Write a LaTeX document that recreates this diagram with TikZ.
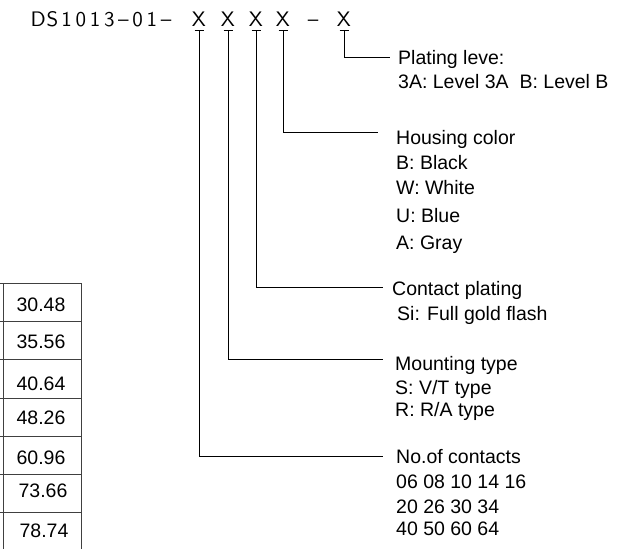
\documentclass[tikz,border=0pt]{standalone}
\usepackage{fontspec}
\setmainfont{Liberation Sans}
\newfontfamily\hdrfont{lmsans10-regular.otf}
\newcommand\hdrch[1]{\makebox[14.2pt][c]{#1}}
\begin{document}
\begin{tikzpicture}[x=1pt,y=-1pt,
  lbl/.style={anchor=base west,inner sep=0pt,font=\fontsize{19.5}{22}\selectfont},
  hdr/.style={anchor=base,inner sep=0pt,font=\hdrfont\fontsize{21}{24}\selectfont},
  num/.style={anchor=base,inner sep=0pt,font=\fontsize{19.5}{22}\selectfont},
  conn/.style={line width=1pt},
  tab/.style={line width=1pt,draw=black!75}]
\useasboundingbox (0,0) rectangle (630,549);

% header code
\node[hdr,anchor=base west] (h) at (31,26) {\hdrch{D}\hdrch{S}\hdrch{1}\hdrch{0}\hdrch{1}\hdrch{3}\hdrch{–}\hdrch{0}\hdrch{1}\hdrch{–}};
\node[hdr] (x1) at (199,26) {X};
\node[hdr] (x2) at (228,26) {X};
\node[hdr] (x3) at (256,26) {X};
\node[hdr] (x4) at (283,26) {X};
\node[hdr] (dash) at (313,26) {–};
\node[hdr] (x5) at (344,26) {X};

% labels
\node[lbl] (plat) at (398,64) {Plating leve:};
\node[lbl] (plat2) at (398,88) {3A: Level 3A\ \ B: Level B};
\node[lbl] (house) at (396,144) {Housing color};
\node[lbl] (hb) at (396,169) {B: Black};
\node[lbl] (hw) at (396,194) {W: White};
\node[lbl] (hu) at (396,222) {U: Blue};
\node[lbl] (ha) at (396,249) {A: Gray};
\node[lbl] (cont) at (392,295) {Contact plating};
\node[lbl] (csi) at (397,320) {Si: Full gold flash};
\node[lbl] (mount) at (395,370) {Mounting type};
\node[lbl] (ms) at (395,394) {S: V/T type};
\node[lbl] (mr) at (395,416) {R: R/A type};
\node[lbl] (noc) at (396,463) {No.of contacts};
\node[lbl] (n1) at (396,488) {06 08 10 14 16};
\node[lbl] (n2) at (396,513) {20 26 30 34};
\node[lbl] (n3) at (396,535) {40 50 60 64};

% connector ends
\coordinate (e1) at (383,456);
\coordinate (e2) at (383,359);
\coordinate (e3) at (383,287);
\coordinate (e4) at (378,132);
\coordinate (e5) at (390,57);

\foreach \n/\e in {x1/e1,x2/e2,x3/e3,x4/e4,x5/e5}{
  \draw[conn] ([shift={(-4.5pt,-4pt)}]\n.south) -- ([shift={(4.5pt,-4pt)}]\n.south);
  \draw[conn] ([yshift=-4pt]\n.south) |- (\e);
}

% table fragment
\foreach \y in {283,321,359,398,436,474,512}{
  \draw[tab] (0,\y) -- (81,\y);
}
\draw[tab] (3,283) -- (3,549);
\draw[tab] (81,283) -- (81,549);
\node[num] (t1) at (41,311) {30.48};
\node[num] (t2) at (41,348) {35.56};
\node[num] (t3) at (41,390) {40.64};
\node[num] (t4) at (41,424) {48.26};
\node[num] (t5) at (41,464) {60.96};
\node[num] (t6) at (43,497) {73.66};
\node[num] (t7) at (44,537) {78.74};
\end{tikzpicture}
\end{document}
